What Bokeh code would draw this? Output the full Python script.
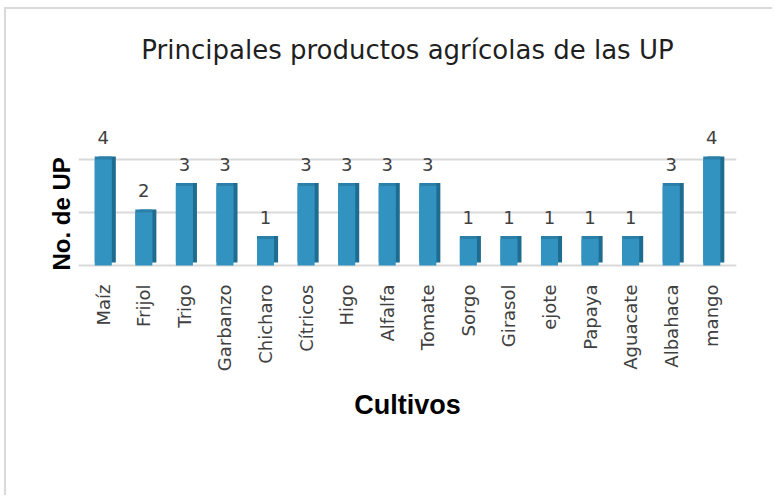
from bokeh.plotting import figure
from bokeh.models import ColumnDataSource, FactorRange, Range1d, FixedTicker, LabelSet, Title
from bokeh.transform import dodge
from bokeh.core.properties import value
from bokeh.embed import file_html
from bokeh.resources import INLINE

cultivos = ["Maíz", "Frijol", "Trigo", "Garbanzo", "Chicharo", "Cítricos", "Higo", "Alfalfa",
            "Tomate", "Sorgo", "Girasol", "ejote", "Papaya", "Aguacate", "Albahaca", "mango"]
num_up = [4, 2, 3, 3, 1, 3, 3, 3, 3, 1, 1, 1, 1, 1, 3, 4]
grid_ticks = [0, 2, 4]

DX = 0.1
DY = 0.11

src = ColumnDataSource(dict(cat=cultivos, v=num_up, lab=[str(n) for n in num_up]))

p = figure(width=768, height=488, output_backend="svg", toolbar_location=None,
           x_range=FactorRange(*cultivos, range_padding=0.11, range_padding_units="absolute"),
           y_range=Range1d(-0.19, 5.62),
           min_border_left=72, min_border_right=38, min_border_top=107, min_border_bottom=227)
p.styles = {"border-left": "2px solid #d9d9d9", "border-top": "2px solid #d9d9d9",
            "margin-left": "4px", "margin-top": "7px"}
p.outline_line_color = None

# spacer between the plot area and the chart title
spacer = Title(text=" ", standoff=22, text_font_size="25px")
main_title = Title(text="Principales productos agrícolas de las UP", align="center", standoff=0,
                   text_font="DejaVu Sans", text_font_size="26px", text_font_style="normal",
                   text_color="#1f1f1f")
p.add_layout(spacer, "above")
p.add_layout(main_title, "above")

# side / top faces
p.vbar(x=dodge("cat", DX, range=p.x_range), top=dodge("v", DY), bottom=DY, width=0.42,
       source=src, fill_color="#1F6C91", line_color=None)
p.vbar(x="cat", top=dodge("v", DY), bottom=DY, width=0.42,
       source=src, fill_color="#2B80AA", line_color=None)
# front face
p.vbar(x="cat", top="v", bottom=0, width=0.42, source=src,
       fill_color="#3393C0", line_color=None)

labels = LabelSet(x="cat", y="v", text="lab", source=src, y_offset=15,
                  text_align="center", text_baseline="bottom",
                  text_font=value("DejaVu Sans"), text_font_size="18px", text_color="#404040")
p.add_layout(labels)

p.xgrid.grid_line_color = None
p.ygrid.ticker = FixedTicker(ticks=grid_ticks)
p.ygrid.grid_line_color = "#d9d9d9"
p.ygrid.grid_line_width = 2

p.yaxis.ticker = FixedTicker(ticks=grid_ticks)
p.yaxis.visible = False
ylabel = Title(text="No. de UP", align="left", standoff=8,
               text_font="Liberation Sans", text_font_style="bold",
               text_font_size="24px", text_color="#000000")
p.add_layout(ylabel, "left")

p.xaxis.axis_line_color = None
p.xaxis.major_tick_line_color = None
p.xaxis.minor_tick_line_color = None
p.xaxis.major_label_orientation = 1.5708
p.xaxis.major_label_standoff = 8
p.xaxis.major_label_text_font = "DejaVu Sans"
p.xaxis.major_label_text_font_size = "18px"
p.xaxis.major_label_text_color = "#404040"
p.xaxis.axis_label = "Cultivos"
p.xaxis.axis_label_text_font = "Liberation Sans"
p.xaxis.axis_label_text_font_style = "bold"
p.xaxis.axis_label_text_font_size = "27px"
p.xaxis.axis_label_text_color = "#000000"
p.xaxis.axis_label_standoff = 16

open("out.html", "w").write(file_html(p, INLINE))
